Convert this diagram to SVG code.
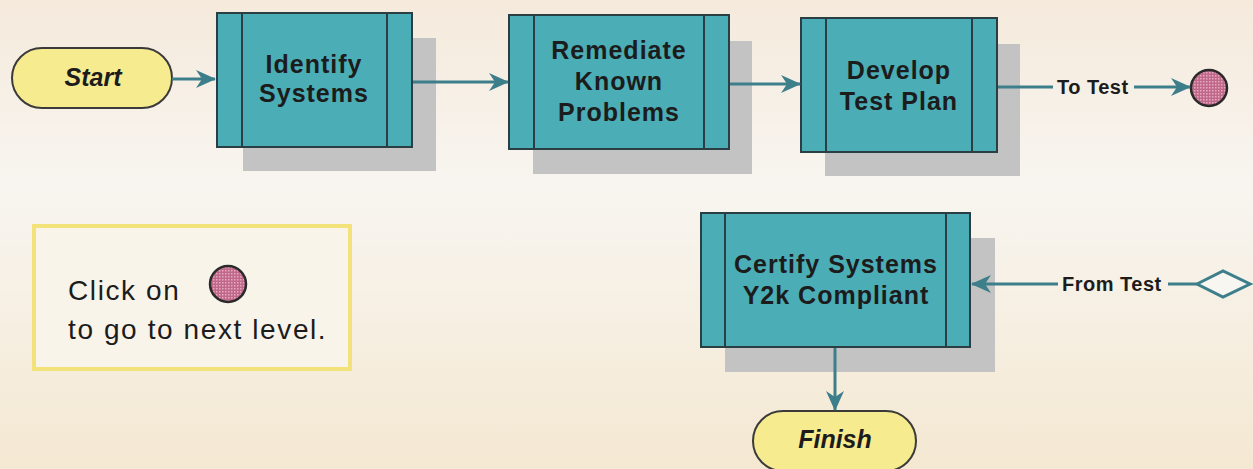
<svg xmlns="http://www.w3.org/2000/svg" width="1253" height="469" viewBox="0 0 1253 469">
<defs>
<linearGradient id="bg" x1="0" y1="0" x2="0" y2="1">
<stop offset="0" stop-color="#f5eadc"/>
<stop offset="0.4" stop-color="#f8f5f0"/>
<stop offset="1" stop-color="#f4e8d2"/>
</linearGradient>
<pattern id="dots" width="3" height="3" patternUnits="userSpaceOnUse">
<rect width="3" height="3" fill="#c0688a"/>
<rect width="1.5" height="1.5" fill="#e6a8bc"/>
</pattern>
<marker id="arr" viewBox="0 0 20 20" refX="19" refY="10" markerWidth="20" markerHeight="20" markerUnits="userSpaceOnUse" orient="auto">
<path d="M0,1 L20,10 L0,19 L6,10 Z" fill="#3d7e8b"/>
</marker>
<style>
.box{fill:#4badb5;stroke:#2b3e44;stroke-width:2}
.div{stroke:#2b3e44;stroke-width:2}
.shadow{fill:#c3c3c3}
.pill{fill:#f7eb90;stroke:#3a3a3a;stroke-width:2}
.bt{font-family:"Liberation Sans",Arial,sans-serif;font-weight:bold;font-size:25px;letter-spacing:1px;fill:#1c1c1c;text-anchor:middle}
.pt{font-family:"Liberation Sans",Arial,sans-serif;font-weight:bold;font-style:italic;font-size:25px;fill:#1c1c1c;text-anchor:middle}
.lt{font-family:"Liberation Sans",Arial,sans-serif;font-weight:bold;font-size:20px;letter-spacing:0.5px;fill:#1c1c1c}
.leg{font-family:"Liberation Sans",Arial,sans-serif;font-size:28px;letter-spacing:1.6px;fill:#1c1c1c}
.con{stroke:#3d7e8b;stroke-width:3;fill:none}
.dot{fill:url(#dots);stroke:#2a2a2a;stroke-width:2.5}
</style>
</defs>
<rect width="1253" height="469" fill="url(#bg)"/>

<g id="start">
<rect class="pill" x="12" y="48" width="160" height="60" rx="30"/>
<text class="pt" x="93" y="86">Start</text>
</g>

<g id="identify">
<rect class="shadow" x="243" y="38" width="193" height="133"/>
<rect class="box" x="217" y="13" width="195" height="134"/>
<line class="div" x1="242" y1="13" x2="242" y2="147"/>
<line class="div" x1="387" y1="13" x2="387" y2="147"/>
<text class="bt" x="314" y="73">Identify</text>
<text class="bt" x="314" y="102">Systems</text>
</g>

<g id="remediate">
<rect class="shadow" x="533" y="41" width="219" height="133"/>
<rect class="box" x="509" y="15" width="220" height="134"/>
<line class="div" x1="534" y1="15" x2="534" y2="149"/>
<line class="div" x1="704" y1="15" x2="704" y2="149"/>
<text class="bt" x="619" y="59">Remediate</text>
<text class="bt" x="619" y="90">Known</text>
<text class="bt" x="619" y="121">Problems</text>
</g>

<g id="develop">
<rect class="shadow" x="825" y="44" width="195" height="132"/>
<rect class="box" x="801" y="18" width="196" height="134"/>
<line class="div" x1="826" y1="18" x2="826" y2="152"/>
<line class="div" x1="972" y1="18" x2="972" y2="152"/>
<text class="bt" x="899" y="79">Develop</text>
<text class="bt" x="899" y="110">Test Plan</text>
</g>

<g id="to-test">
<circle class="dot" cx="1209" cy="88" r="18"/>
</g>

<g id="certify">
<rect class="shadow" x="725" y="238" width="270" height="134"/>
<rect class="box" x="701" y="213" width="269" height="134"/>
<line class="div" x1="725" y1="213" x2="725" y2="347"/>
<line class="div" x1="946" y1="213" x2="946" y2="347"/>
<text class="bt" x="836" y="273">Certify Systems</text>
<text class="bt" x="836" y="304">Y2k Compliant</text>
</g>

<g id="from-test">
<polygon points="1197,284 1223,271 1250,284 1223,297" fill="#f8f6f0" stroke="#3d7e8b" stroke-width="3"/>
</g>

<g id="finish">
<rect class="pill" x="753" y="411" width="163" height="60" rx="30"/>
<text class="pt" x="835" y="448">Finish</text>
</g>

<g id="legend">
<rect x="34" y="226" width="316" height="143" fill="#f8f4ea" stroke="#f3e27a" stroke-width="4"/>
<text class="leg" x="68" y="300">Click on</text>
<circle class="dot" cx="228" cy="284" r="18"/>
<text class="leg" x="68" y="339">to go to next level.</text>
</g>

<g id="connectors">
<line class="con" x1="172" y1="79" x2="215" y2="79" marker-end="url(#arr)"/>
<line class="con" x1="413" y1="82" x2="508" y2="82" marker-end="url(#arr)"/>
<line class="con" x1="730" y1="84" x2="800" y2="84" marker-end="url(#arr)"/>
<line class="con" x1="998" y1="87" x2="1053" y2="87"/>
<text class="lt" x="1057" y="94">To Test</text>
<line class="con" x1="1134" y1="87" x2="1190" y2="87" marker-end="url(#arr)"/>
<line class="con" x1="1197" y1="284" x2="1168" y2="284"/>
<text class="lt" x="1062" y="291">From Test</text>
<line class="con" x1="1058" y1="284" x2="972" y2="284" marker-end="url(#arr)"/>
<line class="con" x1="835" y1="348" x2="835" y2="410" marker-end="url(#arr)"/>
</g>
</svg>
